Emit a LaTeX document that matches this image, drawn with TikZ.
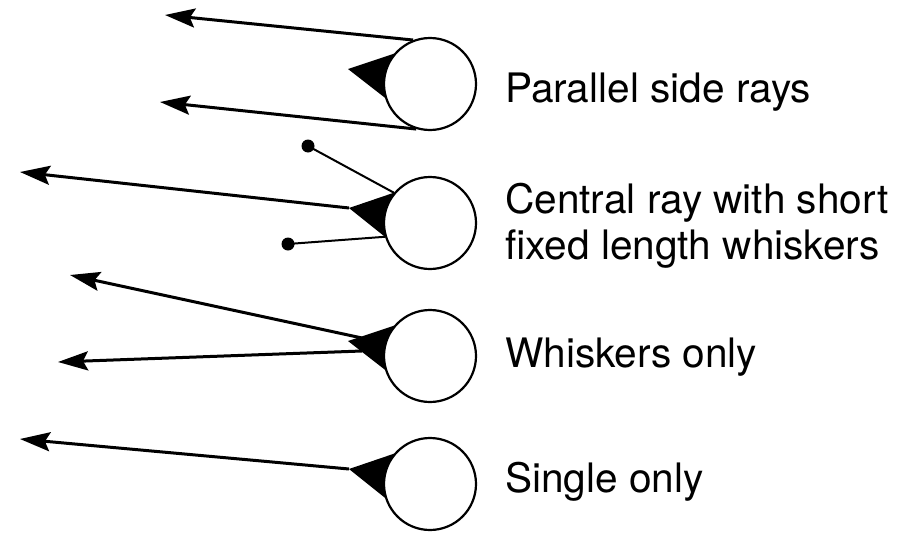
\documentclass[tikz,border=0pt]{standalone}
\usepackage{fontspec}
\setmainfont{TeX Gyre Heros}
\usetikzlibrary{arrows.meta,calc,backgrounds}
\begin{document}
\begin{tikzpicture}[x=1pt,y=-1pt,
  ball/.style={circle,draw=black,line width=2.2pt,fill=white,minimum size=92pt,inner sep=0pt},
  ray/.style={line width=3pt,-{Stealth[length=30pt,width=19pt,inset=5pt]}},
  whisk/.style={line width=2pt},
  dotend/.style={circle,fill=black,minimum size=13pt,inner sep=0pt},
  lbl/.style={anchor=base west,inner sep=0pt,font=\fontsize{40.6pt}{46pt}\selectfont,align=left},
  wedge/.style={fill=black}]
\useasboundingbox (0,0) rectangle (903,533);
% circles
\node[ball] (c1) at (430,84) {};
\node[ball] (c2) at (430,223) {};
\node[ball] (c3) at (430,356) {};
\node[ball] (c4) at (430,484) {};
% triangle tips
\coordinate (t1) at (348,69);
\coordinate (t2) at (349,208);
\coordinate (t3) at (348,341);
\coordinate (t4) at (349,469);
\begin{scope}[on background layer]
\foreach \i in {1,2,3,4}{
  \fill[wedge] (t\i) -- (c\i.140) -- (c\i.center) -- (c\i.197) -- cycle;
}
\end{scope}
% arrow end points
\coordinate (a1) at (165,15);
\coordinate (b1) at (160,102);
\coordinate (a2) at (20,172);
\coordinate (a3) at (70,275);
\coordinate (b3) at (58,362);
\coordinate (a4) at (20,439);
% dot ends
\node[dotend] (d1) at (308,146) {};
\node[dotend] (d2) at (288,244) {};
% rays
\draw[ray] (c1.111) -- (a1);
\draw[ray] (c1.253) -- (b1);
\draw[ray] (t2) -- (a2);
\draw[ray] ($(t3)+(14,-3)$) -- (a3);
\draw[ray] ($(t3)+(14,10)$) -- (b3);
\draw[ray] (t4) -- (a4);
% whiskers
\draw[whisk] (c2.140) -- (d1.center);
\draw[whisk] (c2.197) -- (d2.center);
% labels
\node[lbl] (l1) at (505,102) {Parallel side rays};
\node[lbl] (l2) at (505,259) {Central ray with short\\fixed length whiskers};
\node[lbl] (l3) at (505,367) {Whiskers only};
\node[lbl] (l4) at (505,492) {Single only};
\end{tikzpicture}
\end{document}
